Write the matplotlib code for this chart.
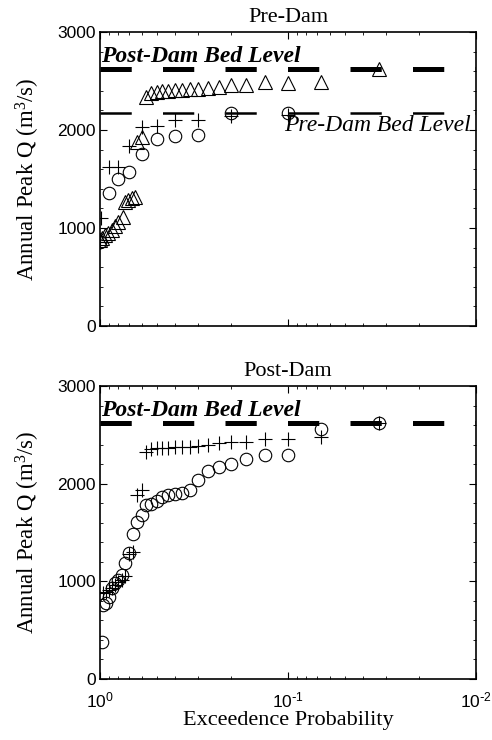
import matplotlib
matplotlib.use("Agg")
import matplotlib.pyplot as plt
from matplotlib.ticker import FixedLocator, MultipleLocator, NullFormatter, LogLocator

plt.rcParams['lines.scale_dashes'] = False
plt.rcParams['mathtext.default'] = 'regular'

# ---------------- data ----------------
# Pre-Dam panel
pre_tri_p = [0.033, 0.067, 0.100, 0.133, 0.167, 0.200, 0.233, 0.267, 0.300, 0.333,
             0.367, 0.400, 0.433, 0.467, 0.500, 0.533, 0.567, 0.600, 0.633, 0.651,
             0.678, 0.707, 0.736, 0.752, 0.799, 0.832, 0.866, 0.903, 0.941, 0.979, 1.000]
pre_tri_q = [2620, 2490, 2480, 2490, 2460, 2460, 2440, 2430, 2420, 2415,
             2410, 2405, 2400, 2395, 2390, 2380, 2340, 1930, 1880, 1320,
             1305, 1285, 1270, 1115, 1065, 1015, 980, 945, 925, 895, 875]

pre_circ_p = [0.1, 0.2, 0.3, 0.4, 0.5, 0.6, 0.7, 0.8, 0.9, 1.0]
pre_circ_q = [2175, 2175, 1950, 1940, 1905, 1755, 1575, 1500, 1355, 860]

pre_plus_p = [0.1, 0.2, 0.3, 0.4, 0.5, 0.6, 0.7, 0.8, 0.9, 0.985, 1.0]
pre_plus_q = [2155, 2145, 2100, 2100, 2045, 2035, 1840, 1625, 1625, 1100, 860]

# Post-Dam panel
post_circ_p = [0.033, 0.067, 0.100, 0.133, 0.167, 0.200, 0.233, 0.267, 0.300, 0.333,
               0.367, 0.400, 0.433, 0.467, 0.500, 0.533, 0.567, 0.600, 0.633, 0.667,
               0.700, 0.733, 0.767, 0.800, 0.833, 0.867, 0.900, 0.933, 0.967, 0.980]
post_circ_q = [2620, 2560, 2290, 2290, 2248, 2200, 2167, 2129, 2037, 1935,
               1907, 1890, 1883, 1866, 1825, 1791, 1781, 1679, 1610, 1484,
               1293, 1190, 1064, 1013, 980, 928, 843, 775, 757, 382]

post_plus_p = [0.033, 0.067, 0.100, 0.133, 0.167, 0.200, 0.233, 0.267, 0.300, 0.333,
               0.367, 0.400, 0.433, 0.467, 0.500, 0.533, 0.567, 0.600, 0.633, 0.667,
               0.700, 0.733, 0.767, 0.800, 0.833, 0.867, 0.900, 0.933, 0.967]
post_plus_q = [2620, 2480, 2455, 2455, 2430, 2430, 2412, 2395, 2385, 2378,
               2378, 2371, 2368, 2361, 2361, 2351, 2327, 1935, 1885, 1300,
               1285, 1050, 1010, 990, 960, 930, 910, 890, 877]

post_dam_bed = 2620
pre_dam_bed = 2175

titles = ["Pre-Dam", "Post-Dam"]
xlabel = "Exceedence Probability"
ylabel = r"Annual Peak Q (m$^{3}$/s)"
yticks = [0, 1000, 2000, 3000]
xticks = [1, 0.1, 0.01]
xticklabels = [r"$10^{0}$", r"$10^{\text{-}1}$", r"$10^{\text{-}2}$"]

# ---------------- figure ----------------
SERIF = ["Liberation Serif", "DejaVu Serif"]
SANS = ["Liberation Sans", "DejaVu Sans"]

fig = plt.figure(figsize=(4.92, 7.40), dpi=100)
ax1 = fig.add_axes([0.2033, 0.5595, 0.7642, 0.3973])
ax2 = fig.add_axes([0.2033, 0.0824, 0.7642, 0.3960])

mk = dict(linestyle='none', color='black', markerfacecolor='none',
          markeredgewidth=0.8)
DASH = (0, (22.5, 22.5))


def style(ax, title, show_x):
    ax.set_xscale('log')
    ax.set_xlim(1, 0.01)
    ax.set_ylim(0, 3000)
    ax.xaxis.set_major_locator(FixedLocator(xticks))
    ax.xaxis.set_minor_locator(LogLocator(base=10, subs=range(2, 10)))
    ax.xaxis.set_minor_formatter(NullFormatter())
    if show_x:
        ax.set_xticklabels(xticklabels, fontfamily=SANS, fontsize=12.5)
        ax.set_xlabel(xlabel, fontfamily=SERIF, fontsize=16, labelpad=1)
    else:
        ax.set_xticklabels([])
    ax.set_yticks(yticks)
    ax.set_yticklabels([str(v) for v in yticks], fontfamily=SANS, fontsize=12.5)
    ax.yaxis.set_minor_locator(MultipleLocator(200))
    ax.tick_params(which='both', direction='in', top=True, right=True)
    ax.tick_params(which='major', length=5, width=0.8, pad=3)
    ax.tick_params(which='minor', length=2.5, width=0.6)
    ax.tick_params(axis='x', which='major', pad=8)
    for s in ax.spines.values():
        s.set_linewidth(1.2)
    ax.set_title(title, fontfamily=SERIF, fontsize=16, pad=7)
    ax.set_ylabel(ylabel, fontfamily=SERIF, fontsize=16.5, labelpad=11)


# Pre-Dam
ax1.plot([1, 0.01], [post_dam_bed, post_dam_bed], color='black', lw=3.6,
         linestyle=DASH, dash_capstyle='butt')
ax1.plot([1, 0.01], [pre_dam_bed, pre_dam_bed], color='black', lw=1.8,
         linestyle=DASH, dash_capstyle='butt')
ax1.plot(pre_tri_p, pre_tri_q, marker='^', markersize=9.5, **mk)
ax1.plot(pre_circ_p, pre_circ_q, marker='o', markersize=9, **mk)
ax1.plot(pre_plus_p, pre_plus_q, marker='+', markersize=10, **mk)
ax1.text(0.985, 2690, "Post-Dam Bed Level", fontfamily=SERIF, fontsize=17,
         fontweight='bold', fontstyle='italic', ha='left', va='baseline')
ax1.text(0.0107, 1985, "Pre-Dam Bed Level", fontfamily=SERIF, fontsize=17,
         fontstyle='italic', ha='right', va='baseline')
style(ax1, titles[0], False)

# Post-Dam
ax2.plot([1, 0.01], [post_dam_bed, post_dam_bed], color='black', lw=3.6,
         linestyle=DASH, dash_capstyle='butt')
ax2.plot(post_circ_p, post_circ_q, marker='o', markersize=9, **mk)
ax2.plot(post_plus_p, post_plus_q, marker='+', markersize=10, **mk)
ax2.text(0.985, 2690, "Post-Dam Bed Level", fontfamily=SERIF, fontsize=17,
         fontweight='bold', fontstyle='italic', ha='left', va='baseline')
style(ax2, titles[1], True)

fig.savefig("out.png", dpi=100)
